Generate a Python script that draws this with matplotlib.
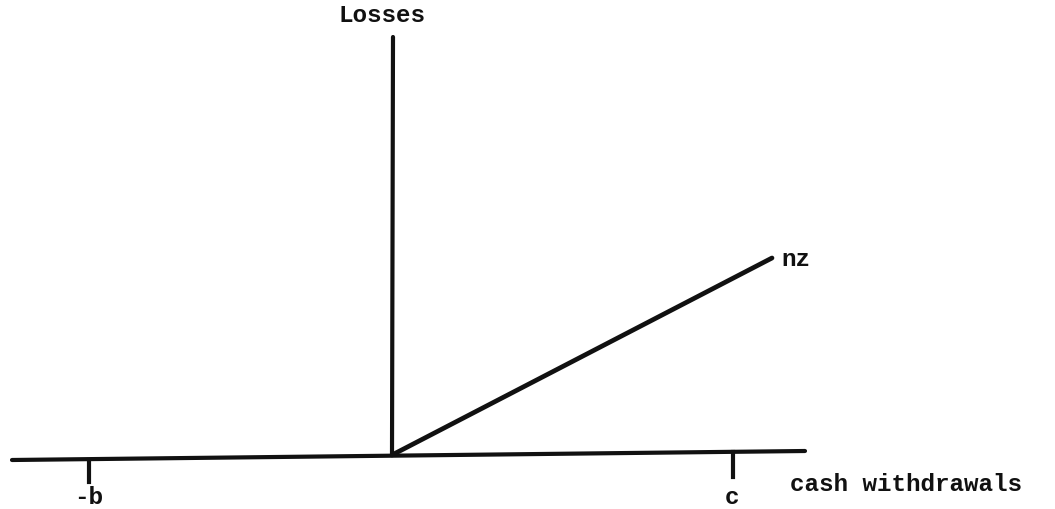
import matplotlib
matplotlib.use("Agg")
import matplotlib.pyplot as plt

# Diagram geometry (origin at the intersection of axes, units ~ pixels)
haxis_x = [-380, 413]
haxis_y = [-5, 4]
vaxis_x = [0, 1]
vaxis_y = [0, 418]
nz_x = [0, 380]
nz_y = [0, 197]
tick_b_x = [-303, -303]
tick_b_y = [-5, -27]
tick_c_x = [341, 341]
tick_c_y = [3, -22]

labels = {
    "Losses": (-10, 441),
    "nz": (389, 197),
    "-b": (-303, -42),
    "c": (340, -42),
    "cash withdrawals": (398, -29),
}

fig = plt.figure(figsize=(10.55, 5.1), dpi=100)
ax = fig.add_axes([0, 0, 1, 1])
ax.set_xlim(-392, 663)
ax.set_ylim(-54, 456)
ax.axis("off")

lc = "#111111"
ax.plot(haxis_x, haxis_y, color=lc, lw=3.0, solid_capstyle="round")
ax.plot(vaxis_x, vaxis_y, color=lc, lw=3.0, solid_capstyle="round")
ax.plot(nz_x, nz_y, color=lc, lw=3.4, solid_capstyle="round")
ax.plot(tick_b_x, tick_b_y, color=lc, lw=3.0)
ax.plot(tick_c_x, tick_c_y, color=lc, lw=3.0)

font = dict(family="Liberation Mono", fontsize=17.5, color=lc, fontweight="bold")
ax.text(*labels["Losses"], "Losses", ha="center", va="center", **font)
ax.text(*labels["nz"], "nz", ha="left", va="center", **font)
ax.text(*labels["-b"], "-b", ha="center", va="center", **font)
ax.text(*labels["c"], "c", ha="center", va="center", **font)
ax.text(*labels["cash withdrawals"], "cash withdrawals", ha="left", va="center", **font)

fig.savefig("out.png", dpi=100, facecolor="white")
